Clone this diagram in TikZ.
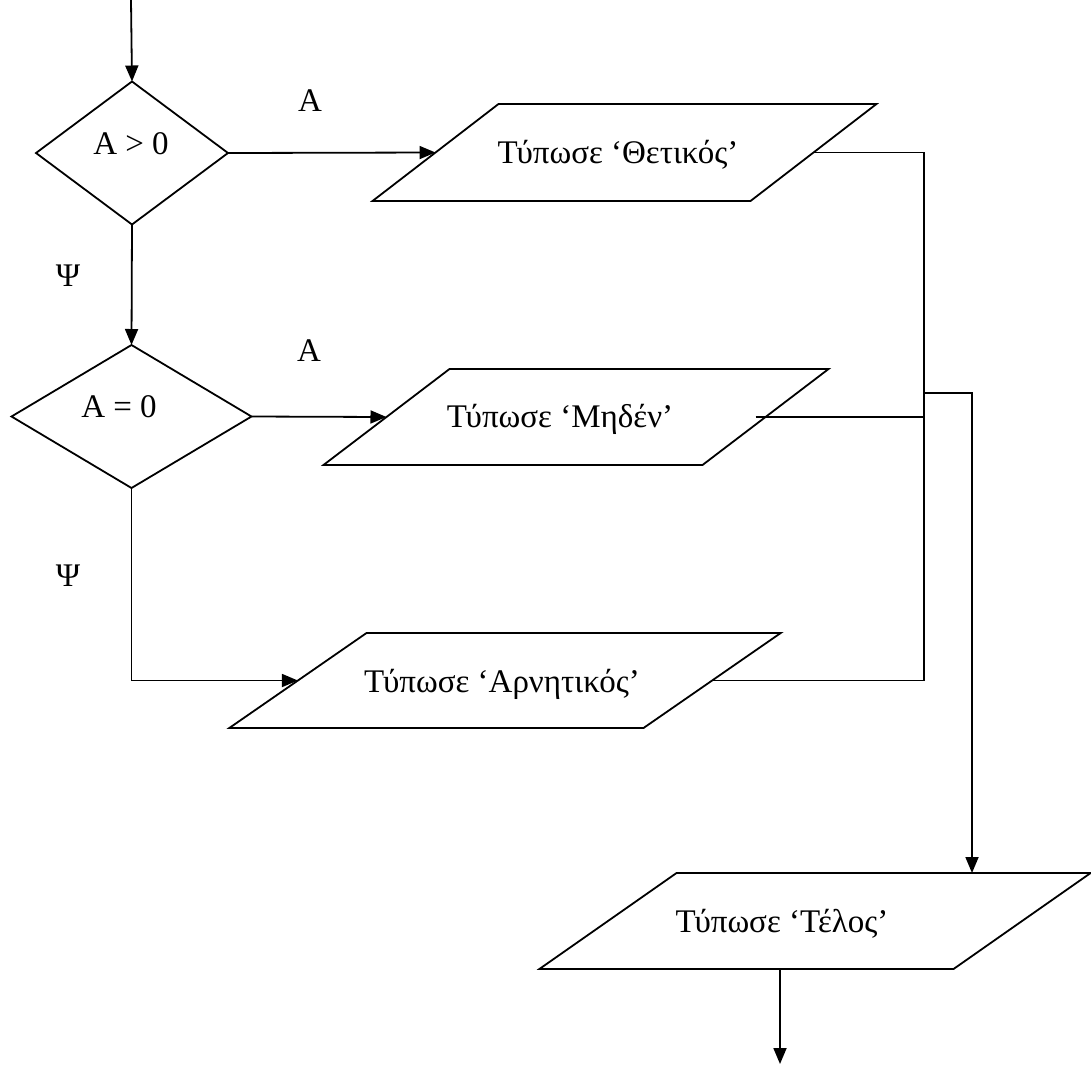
\documentclass[tikz,border=0pt]{standalone}
\usepackage{fontspec}
\setmainfont{Liberation Serif}
\usetikzlibrary{shapes.geometric,arrows.meta}
\newcommand\iobox[2]{\rule[\dimexpr-#2/2\relax]{0pt}{#2}\rule{#1}{0pt}}
\begin{document}
\begin{tikzpicture}[x=1pt,y=-1pt,
  line width=1.8pt,
  every node/.style={font=\fontsize{33}{38}\selectfont},
  dec/.style={draw, diamond, inner sep=0pt, outer sep=0pt, minimum width=#1, minimum height=143pt},
  io/.style={draw, trapezium, inner sep=0pt, outer sep=0pt},
  arr/.style={-{Triangle[length=16pt,width=13pt]}},
  txt/.style={inner sep=0pt, anchor=base}
]
\useasboundingbox (0,0) rectangle (1091,1066);

% decisions
\node[dec=192pt] (d1) at (132,153) {};
\node[dec=240pt] (d2) at (131.5,416.5) {};
\node[txt] (td1) at (131,154) {A > 0};
\node[txt] (td2) at (119,417) {A = 0};

% input/output boxes
\node[io, trapezium left angle=37.6, trapezium right angle=142.4]
  (p1) at (624.5,152.5) {\iobox{252pt}{97pt}};
\node[io, trapezium left angle=37.3, trapezium right angle=142.7]
  (p2) at (576,417) {\iobox{253pt}{96pt}};
\node[io, trapezium left angle=34.7, trapezium right angle=145.3]
  (p3) at (505,680.5) {\iobox{277pt}{95pt}};
\node[io, trapezium left angle=35.0, trapezium right angle=145.0]
  (p4) at (815,921) {\iobox{277pt}{96pt}};

\node[txt] (tp1) at (618,163) {Τύπωσε ‘Θετικός’};
\node[txt] (tp2) at (560,427) {Τύπωσε ‘Μηδέν’};
\node[txt] (tp3) at (502,692) {Τύπωσε ‘Αρνητικός’};
\node[txt] (tp4) at (782,932) {Τύπωσε ‘Τέλος’};

% branch labels
\node[txt] (la1) at (310,111) {A};
\node[txt] (la2) at (309,361) {A};
\node[txt] (lp1) at (68,286) {Ψ};
\node[txt] (lp2) at (68,586) {Ψ};

% helper coordinates
\coordinate (start) at (131,0);
\coordinate (bus) at (924,0);
\coordinate (j) at (924,393);
\coordinate (drop) at (972,0);
\coordinate (exit) at (780,1064);

% connectors
\draw[arr] (start) -- (d1.north);
\draw[arr] (d1.east) -- (p1.west);
\draw[arr] (d1.south) -- (d2.north);
\draw[arr] (d2.east) -- (p2.west);
\draw[arr] (d2.south) |- (p3.west);
\draw (p1.east) -| (bus |- p3.east) -- (p3.east);
\draw ([xshift=-10pt]p2.east) -- (bus |- p2.east);
\draw[arr] (j) -| (drop |- p4.north);
\draw[arr] (exit |- p4.south) -- (exit);
\end{tikzpicture}
\end{document}
